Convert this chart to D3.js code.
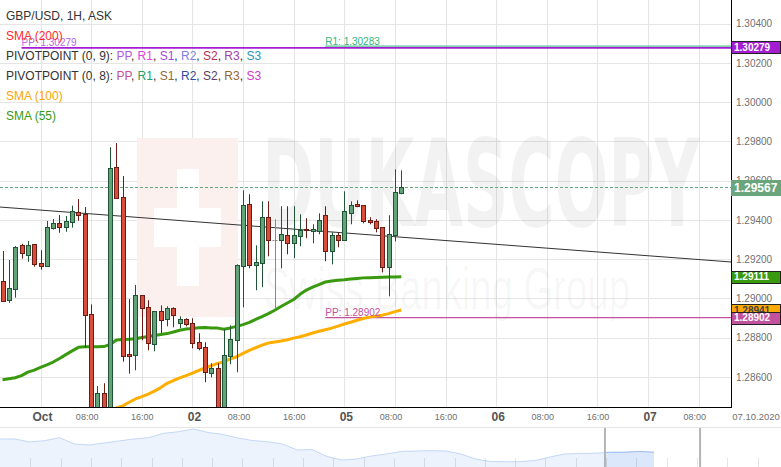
<!DOCTYPE html>
<html><head><meta charset="utf-8">
<script src="https://cdn.jsdelivr.net/npm/d3@7"></script>
<style>
html,body{margin:0;padding:0;background:#fff;}
svg{display:block;font-family:"Liberation Sans",Arial,sans-serif;}
</style></head><body>
<svg id="chart" width="781" height="467"></svg>
<script>
// ---------------- DATA ----------------
// hour index: 0 = 1 Oct 00:00 (weekend hours skipped)
const candleHours = d3.range(-6, 58);
const open = [1.29089,1.28989,1.29047,1.29271,1.29218,1.29276,
  1.29179,1.29164,1.29356,1.29383,1.29361,1.29386,1.29439,1.29431,1.28919,1.28385,1.28517,1.28380,1.29669,1.29516,1.28716,1.28710,1.29016,1.28955,1.28766,1.28935,1.28894,1.28950,1.28873,1.28894,
  1.28873,1.28777,1.28751,1.28619,1.28644,1.28420,1.28705,1.28787,1.29164,1.29480,1.29169,1.29179,1.29414,1.29297,1.29297,1.29322,1.29281,1.29317,1.29353,1.29342,1.29342,1.29424,1.29240,1.29322,
  1.29297,1.29434,1.29480,1.29475,1.29398,1.29393,1.29363,1.29159,1.29322,1.29536];
const high = [1.29242,1.29196,1.29267,1.29279,1.29293,1.29276,
  1.29246,1.29395,1.29405,1.29425,1.29420,1.29473,1.29507,1.29466,1.28970,1.28554,1.28568,1.29771,1.29792,1.29624,1.28997,1.29069,1.29016,1.28991,1.28935,1.28965,1.28960,1.28955,1.28909,1.28899,
  1.28899,1.28823,1.28777,1.28670,1.28670,1.28843,1.28863,1.29174,1.29551,1.29531,1.29271,1.29495,1.29495,1.29404,1.29470,1.29470,1.29470,1.29429,1.29409,1.29378,1.29434,1.29470,1.29337,1.29337,
  1.29546,1.29495,1.29500,1.29475,1.29414,1.29404,1.29363,1.29424,1.29658,1.29653];
const low = [1.28984,1.28978,1.29004,1.29203,1.29187,1.29162,
  1.29147,1.29164,1.29351,1.29335,1.29340,1.29361,1.29396,1.28749,1.28340,1.28330,1.28320,1.28340,1.29507,1.28678,1.28617,1.28634,1.28787,1.28736,1.28731,1.28823,1.28858,1.28853,1.28848,1.28858,
  1.28746,1.28736,1.28573,1.28598,1.28390,1.28400,1.28665,1.28624,1.28955,1.29154,1.29042,1.29057,1.29215,1.28950,1.29154,1.29225,1.29205,1.29266,1.29307,1.29281,1.29327,1.29190,1.29174,1.29261,
  1.29297,1.29378,1.29465,1.29383,1.29378,1.29337,1.29133,1.29011,1.29291,1.29531];
const close = [1.28989,1.29052,1.29261,1.29228,1.29271,1.29172,
  1.29164,1.29363,1.29383,1.29361,1.29393,1.29444,1.29424,1.28914,1.28390,1.28517,1.28380,1.29665,1.29511,1.28705,1.28705,1.29016,1.28950,1.28772,1.28935,1.28889,1.28950,1.28914,1.28894,1.28868,
  1.28772,1.28746,1.28624,1.28644,1.28420,1.28710,1.28792,1.29169,1.29475,1.29169,1.29184,1.29414,1.29297,1.29297,1.29327,1.29281,1.29322,1.29347,1.29347,1.29353,1.29398,1.29240,1.29322,1.29297,
  1.29444,1.29475,1.29470,1.29393,1.29388,1.29358,1.29159,1.29327,1.29541,1.29567];

// SMA (55), aligned with candleHours
const sma55 = [1.28586,1.28591,1.28596,1.28607,1.28625,1.28635,
  1.28649,1.28662,1.28676,1.28694,1.28714,1.28733,1.28751,1.28754,1.28754,1.28754,1.28755,1.28766,1.28788,1.28791,1.28792,1.28795,1.28801,1.28806,1.28811,1.28816,1.28821,1.28829,1.28838,1.28844,
  1.28847,1.28851,1.28852,1.28850,1.28849,1.28843,1.28850,1.28858,1.28867,1.28878,1.28893,1.28908,1.28923,1.28940,1.28959,1.28977,1.28995,1.29021,1.29043,1.29058,1.29071,1.29084,1.29089,1.29093,
  1.29095,1.29099,1.29102,1.29105,1.29106,1.29107,1.29108,1.29109,1.29110,1.29111];
// SMA (100), starting at hour 11
const sma100StartHour = 11;
const sma100 = [1.28432,1.28442,1.28453,1.28471,1.28488,1.28500,1.28513,1.28528,1.28546,1.28568,1.28582,1.28595,1.28607,
  1.28620,1.28633,1.28646,1.28658,1.28669,1.28678,1.28692,1.28703,1.28720,1.28736,1.28749,1.28762,1.28773,1.28778,1.28783,1.28790,1.28798,1.28805,1.28814,1.28824,1.28833,1.28841,1.28849,1.28859,
  1.28870,1.28879,1.28889,1.28898,1.28905,1.28910,1.28915,1.28923,1.28933,1.28941];

// trend line drawn on chart (hour, price)
const trendHours = [-6.4, 109.1];
const trendPrices = [1.29466, 1.29186];

// pivot levels
const pivotLabels = ["PP: 1.30279", "R1: 1.30283", "PP: 1.28902"];
const pivotValues = [1.30279, 1.30283, 1.28902];
const pivotFromHour = [-3, 45, 45];

// axes
const xDomainHours = [-6.4, 109.1];
const yDomainPrice = [1.28447, 1.30521];
const yTicks = [1.286, 1.288, 1.290, 1.292, 1.294, 1.296, 1.298, 1.300, 1.302, 1.304];
const xTickHours = [0, 8, 16, 24, 32, 40, 48, 56, 64, 72, 80, 88, 96, 104];
const xTickLabels = ["Oct","08:00","16:00","02","08:00","16:00","05","08:00","16:00","06","08:00","16:00","07","08:00"];
const dateLabel = "07.10.2020";

// legend
const legendTitle = "GBP/USD, 1H, ASK";
const pivotNames = ["PP","R1","S1","R2","S2","R3","S3"];
const pivot9Colors = ["#b25ae6","#e43fe0","#a24cd2","#7f82e2","#b8305c","#9c44b0","#2a97b8"];
const pivot8Colors = ["#c2519e","#22a06e","#8c6c3a","#2f4da0","#5c3e5e","#986630","#c83ccc"];

// navigator (long history overview)
const navValues = [1.2933,1.2933,1.2898,1.2913,1.2949,1.2874,1.2862,1.2886,1.2910,1.2933,1.2949,1.3001,1.3020,1.3052,1.3011,
  1.2987,1.2945,1.2915,1.2901,1.2874,1.2802,1.2808,1.2725,1.2683,1.2695,1.2731,1.2755,1.2785,1.2790,1.2794,
  1.2790,1.2755,1.2695,1.2665,1.2663,1.2663,1.2677,1.2719,1.2755,1.2761,1.2763,1.2775,1.2775,1.2785,1.2775];
const navWindow = [40.7, 47.1];

// ---------------- DRAW ----------------
const W = 781, H = 467;
const plotR = 731, plotB = 407;
const svg = d3.select("#chart");

const x = d3.scaleLinear().domain(xDomainHours).range([0, plotR]);
const y = d3.scaleLinear().domain(yDomainPrice).range([plotB, 0]);
const px = v => Math.round(v) + 0.5;

svg.append("defs").append("clipPath").attr("id","plotClip")
  .append("rect").attr("x",0).attr("y",0).attr("width",plotR).attr("height",plotB);

// grid
const grid = svg.append("g");
grid.selectAll("line.h").data(yTicks).join("line")
  .attr("x1",0).attr("x2",plotR).attr("y1",d=>px(y(d))).attr("y2",d=>px(y(d)))
  .attr("stroke","#e5e5e5").attr("stroke-width",1);
grid.selectAll("line.v").data(xTickHours).join("line")
  .attr("x1",d=>px(x(d))).attr("x2",d=>px(x(d))).attr("y1",0).attr("y2",plotB)
  .attr("stroke","#e5e5e5").attr("stroke-width",1);

// watermark
const wm = svg.append("g").attr("clip-path","url(#plotClip)");
wm.append("rect").attr("x",137).attr("y",138).attr("width",101).attr("height",179).attr("fill","#fcf0ef");
wm.append("rect").attr("x",177).attr("y",169).attr("width",22).attr("height",117).attr("fill","#fff");
wm.append("rect").attr("x",154).attr("y",208).attr("width",67).attr("height",39).attr("fill","#fff");
wm.append("text").attr("x",262).attr("y",226).attr("font-size",122).attr("font-weight","bold")
  .attr("font-family","'DejaVu Sans',sans-serif")
  .attr("textLength",438).attr("lengthAdjust","spacingAndGlyphs")
  .attr("fill","#000").attr("fill-opacity",0.05).text("DUKASCOPY");
wm.append("text").attr("x",264).attr("y",309).attr("font-size",60)
  .attr("textLength",366).attr("lengthAdjust","spacingAndGlyphs")
  .attr("fill","#000").attr("fill-opacity",0.04).text("Swiss Banking Group");

const plot = svg.append("g").attr("clip-path","url(#plotClip)");

// pivot lines (R1 first so the purple PP line stays on top)
const pivotLineColors = ["#a31ed2","#2bb07a","#c2519e"];
const pivotTextColors = ["#b766e6","#2fb87e","#c2519e"];
const pivotWidths = [1.6, 1, 1.2];
[1,0,2].forEach(i=>{
  const v = pivotValues[i];
  plot.append("line").attr("x1",x(pivotFromHour[i])).attr("x2",plotR)
    .attr("y1",y(v)+(i===0?0.4:(i===1?-0.6:0))).attr("y2",y(v)+(i===0?0.4:(i===1?-0.6:0)))
    .attr("stroke",pivotLineColors[i]).attr("stroke-width",pivotWidths[i]);
  svg.append("text").attr("x",x(pivotFromHour[i])).attr("y",y(v)-1.5)
    .attr("font-size",10).attr("fill",pivotTextColors[i]).text(pivotLabels[i]);
});

// last price dashed
const lastClose = close[close.length-1];
plot.append("line").attr("x1",0).attr("x2",plotR).attr("y1",px(y(lastClose))).attr("y2",px(y(lastClose)))
  .attr("stroke","#6aa57e").attr("stroke-dasharray","3,2").attr("stroke-width",1);

// trend line
plot.append("line").attr("x1",x(trendHours[0])).attr("y1",y(trendPrices[0]))
  .attr("x2",x(trendHours[1])).attr("y2",y(trendPrices[1]))
  .attr("stroke","#333").attr("stroke-width",1);

// SMAs
const line = d3.line().x(d=>x(d[0])).y(d=>y(d[1]));
plot.append("path").attr("d",line(sma100.map((v,i)=>[sma100StartHour+i,v])))
  .attr("fill","none").attr("stroke","#ffae00").attr("stroke-width",3).attr("stroke-linejoin","round");
plot.append("path").attr("d",line(sma55.map((v,i)=>[candleHours[i],v])))
  .attr("fill","none").attr("stroke","#3a9a0f").attr("stroke-width",3).attr("stroke-linejoin","round");

// candles
const candles = candleHours.map((h,i)=>({h, o:open[i], hi:high[i], lo:low[i], c:close[i]}));
const cg = plot.append("g");
candles.forEach(d=>{
  const cx = px(x(d.h));
  const up = d.c > d.o, flat = d.c === d.o;
  const stroke = flat ? "#8a8a8a" : (up ? "#1f5535" : "#6b1c14");
  const fill = up ? "#64a27a" : "#d94e3b";
  cg.append("line").attr("x1",cx).attr("x2",cx).attr("y1",y(d.hi)).attr("y2",y(d.lo))
    .attr("stroke",stroke).attr("stroke-width",1);
  if (flat) {
    cg.append("line").attr("x1",cx-3).attr("x2",cx+3).attr("y1",px(y(d.o))).attr("y2",px(y(d.o)))
      .attr("stroke",stroke).attr("stroke-dasharray","2,1");
  } else {
    const top = y(Math.max(d.o,d.c)), bot = y(Math.min(d.o,d.c));
    cg.append("rect").attr("x",cx-2).attr("y",Math.round(top)+0.5)
      .attr("width",4).attr("height",Math.max(1,Math.round(bot-top)))
      .attr("fill",fill).attr("stroke",stroke).attr("stroke-width",1);
  }
});

// borders
svg.append("line").attr("x1",plotR+0.5).attr("x2",plotR+0.5).attr("y1",0).attr("y2",plotB+1).attr("stroke","#000");
svg.append("line").attr("x1",0).attr("x2",plotR+1).attr("y1",plotB+0.5).attr("y2",plotB+0.5).attr("stroke","#000");

// y axis (right)
const yAxis = svg.append("g").attr("transform",`translate(${plotR},0)`)
  .call(d3.axisRight(y).tickValues(yTicks).tickSize(0).tickPadding(5).tickFormat(d3.format(".5f")));
yAxis.select(".domain").remove();
yAxis.selectAll("text").attr("font-size",10).attr("fill","#707070").attr("font-family","'Liberation Sans',Arial,sans-serif");

// x axis
const isDay = s => !s.includes(":");
const xAxis = svg.append("g").attr("transform",`translate(0,${plotB})`)
  .call(d3.axisBottom(x).tickValues(xTickHours).tickSize(0).tickFormat((d,i)=>xTickLabels[i]));
xAxis.select(".domain").remove();
xAxis.selectAll("text")
  .attr("font-family","'Liberation Sans',Arial,sans-serif")
  .attr("dy",0)
  .attr("y",(d,i)=>isDay(xTickLabels[i])?14:13)
  .attr("dx",(d,i)=>isDay(xTickLabels[i])?1.5:(xTickLabels[i]==="08:00"?-4.5:0))
  .attr("font-size",(d,i)=>isDay(xTickLabels[i])?12:9)
  .attr("font-weight",(d,i)=>isDay(xTickLabels[i])?"bold":"normal")
  .attr("fill",(d,i)=>isDay(xTickLabels[i])?"#555":"#707070");
svg.append("text").attr("x",756).attr("y",420).attr("text-anchor","middle")
  .attr("font-size",9.5).attr("fill","#707070").text(dateLabel);

// price boxes on the right axis
const boxes = [
  {v:pivotValues[0], fill:"#a21ed0", stroke:"#222", tc:"#fff", fs:10, h:12},
  {v:lastClose, fill:"#6aa57e", stroke:"#6aa57e", tc:"#fff", fs:12, h:15},
  {v:sma55[sma55.length-1], fill:"#3a9a0f", stroke:"#222", tc:"#fff", fs:10, h:12},
  {v:sma100[sma100.length-1], fill:"#ffa800", stroke:"#222", tc:"#444", fs:10, h:12},
  {v:pivotValues[2], fill:"#c2519e", stroke:"#222", tc:"#fff", fs:10, h:12}
];
boxes.forEach(b=>{
  const cy = y(b.v);
  svg.append("rect").attr("x",plotR+0.5).attr("y",Math.round(cy-b.h/2)+0.5).attr("width",49).attr("height",b.h)
    .attr("fill",b.fill).attr("stroke",b.stroke).attr("stroke-width",1);
  svg.append("text").attr("x",734).attr("y",cy).attr("dy","0.36em").attr("font-size",b.fs)
    .attr("font-weight","bold").attr("fill",b.tc).text(d3.format(".5f")(b.v));
});

// legend
const legend = svg.append("g").attr("font-size",12);
const rows = [
  [[legendTitle,"#333"]],
  [["SMA (200)","#ff2a2a"]],
  [["PIVOTPOINT (0, 9): ","#333"]].concat(...pivotNames.map((n,i)=>i<pivotNames.length-1?[[n,pivot9Colors[i]],[", ","#333"]]:[[n,pivot9Colors[i]]])),
  [["PIVOTPOINT (0, 8): ","#333"]].concat(...pivotNames.map((n,i)=>i<pivotNames.length-1?[[n,pivot8Colors[i]],[", ","#333"]]:[[n,pivot8Colors[i]]])),
  [["SMA (100)","#ffa500"]],
  [["SMA (55)","#3a9a0f"]]
];
rows.forEach((r,i)=>{
  const t = legend.append("text").attr("x",6).attr("y",20+20*i).attr("xml:space","preserve");
  r.forEach(([s,c])=>t.append("tspan").attr("fill",c).text(s));
});

// navigator
const navTop = 427;
svg.append("line").attr("x1",0).attr("x2",W).attr("y1",navTop+0.5).attr("y2",navTop+0.5).attr("stroke","#e6e6e6");
const navX = d3.scaleLinear().domain([0, navValues.length-1]).range([0, 654]);
const navY = d3.scaleLinear().domain([1.26, 1.31]).range([H, 425]);
const navArea = d3.area().x((d,i)=>navX(i)).y0(H).y1(d=>navY(d));
const navLine = d3.line().x((d,i)=>navX(i)).y(d=>navY(d));
svg.append("path").attr("d",navArea(navValues)).attr("fill","#edf3fd");
svg.append("path").attr("d",navLine(navValues)).attr("fill","none").attr("stroke","#c4d8f6");
svg.append("clipPath").attr("id","navSel").append("rect")
  .attr("x",navX(navWindow[0])).attr("y",navTop).attr("width",navX(navWindow[1])-navX(navWindow[0])).attr("height",H-navTop);
svg.append("path").attr("d",navArea(navValues)).attr("fill","#dbe7fb").attr("clip-path","url(#navSel)");
svg.append("path").attr("d",navLine(navValues)).attr("fill","none").attr("stroke","#9fbff0").attr("clip-path","url(#navSel)");
svg.selectAll("line.navtick").data(d3.range(1,26)).join("line")
  .attr("x1",d=>px(d*30.3)).attr("x2",d=>px(d*30.3)).attr("y1",458).attr("y2",H)
  .attr("stroke","#000").attr("stroke-opacity",0.1);
navWindow.forEach(w=>{
  svg.append("line").attr("x1",navX(w)).attr("x2",navX(w)).attr("y1",navTop+1).attr("y2",H)
    .attr("stroke","#b4b4b4").attr("stroke-width",2);
});
</script>
</body></html>
